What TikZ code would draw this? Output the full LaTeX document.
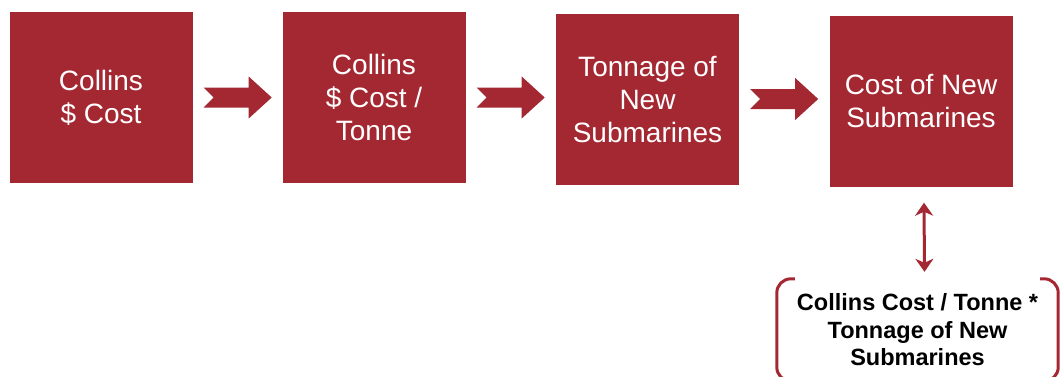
\documentclass[tikz,border=0pt]{standalone}
\usepackage{fontspec}
\setmainfont{Liberation Sans}
\usetikzlibrary{calc,arrows.meta}
\definecolor{boxred}{RGB}{164,40,50}
\newcommand\blkarrow[1]{%
  \fill[boxred] ($(#1.east)+(11,-10)$) -- ++(45,0) -- ++(0,-11) -- ++(23,21)
    -- ++(-23,21) -- ++(0,-11) -- ++(-45,0) -- ++(10,-10) -- cycle;}
\begin{document}
\begin{tikzpicture}[x=1pt,y=-1pt,
  redbox/.style={draw=none,fill=boxred,text=white,minimum width=183pt,minimum height=171pt,
    inner sep=0pt,align=center,font=\fontsize{28}{33}\selectfont},
  formula/.style={minimum width=281pt,minimum height=102pt,inner sep=0pt,align=center,
    font=\fontsize{23.5}{27.5}\selectfont\bfseries},
  brk/.style={draw=boxred,line width=3pt,rounded corners=14pt},
  dbl/.style={draw=boxred,line width=3pt,{Stealth[length=13pt,width=18pt,inset=4pt]}-{Stealth[length=13pt,width=18pt,inset=4pt]}}]
\useasboundingbox (0,0) rectangle (1064,376);
\node[redbox] (b1) at (101,97.5) {Collins\\\$ Cost};
\node[redbox] (b2) at (374,97.5) {Collins\\\$ Cost /\\Tonne};
\node[redbox] (b3) at (647.5,99) {Tonnage of\\New\\Submarines};
\node[redbox] (b4) at (921,101) {Cost of New\\Submarines};
\blkarrow{b1}
\blkarrow{b2}
\blkarrow{b3}
\node[formula] (fm) at (917.5,330) {Collins Cost / Tonne *\\Tonnage of New\\Submarines};
\draw[brk] ([xshift=18pt]fm.north west) -- (fm.north west) -- (fm.south west) -- ([xshift=18pt]fm.south west);
\draw[brk] ([xshift=-18pt]fm.north east) -- (fm.north east) -- (fm.south east) -- ([xshift=-18pt]fm.south east);
\draw[dbl] ([xshift=3pt,yshift=-16pt]b4.south) -- ([xshift=7pt,yshift=7pt]fm.north);
\end{tikzpicture}
\end{document}
